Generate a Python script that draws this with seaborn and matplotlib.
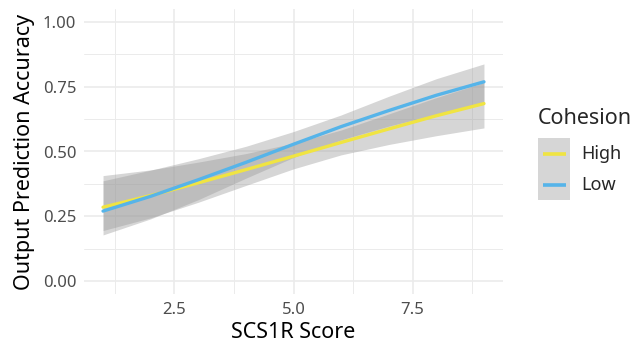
import seaborn as sns
import pandas as pd
import numpy as np
import matplotlib.pyplot as plt
from matplotlib.patches import Rectangle
from matplotlib.lines import Line2D
from matplotlib.legend_handler import HandlerBase
import matplotlib.ticker as ticker

# SCS1R score grid and fitted accuracy per cohesion group
scs1r = [1, 2, 3, 4, 5, 6, 7, 8, 9]

high_fit = [0.285, 0.330, 0.379, 0.430, 0.482, 0.535, 0.587, 0.638, 0.685]
high_lo = [0.195, 0.244, 0.304, 0.369, 0.433, 0.487, 0.527, 0.561, 0.591]
high_hi = [0.407, 0.429, 0.459, 0.492, 0.532, 0.583, 0.645, 0.708, 0.766]

low_fit = [0.270, 0.327, 0.391, 0.458, 0.528, 0.596, 0.658, 0.717, 0.769]
low_lo = [0.178, 0.240, 0.314, 0.397, 0.477, 0.545, 0.598, 0.643, 0.683]
low_hi = [0.387, 0.428, 0.472, 0.520, 0.577, 0.641, 0.713, 0.781, 0.838]

groups = ['High', 'Low']
colors = {'High': '#F0E442', 'Low': '#56B4E9'}

df = pd.DataFrame({
    'SCS1R Score': scs1r * 2,
    'Accuracy': high_fit + low_fit,
    'lo': high_lo + low_lo,
    'hi': high_hi + low_hi,
    'Cohesion': ['High'] * len(scs1r) + ['Low'] * len(scs1r),
})


class RibbonKey(HandlerBase):
    # ggplot-like key: grey ribbon square with a shorter coloured line on it
    def create_artists(self, legend, orig_handle, xdescent, ydescent,
                       width, height, fontsize, trans):
        rect = Rectangle((-xdescent, -ydescent), width, height,
                         facecolor='#D6D6D6', edgecolor='none', transform=trans)
        pad = width * 0.14
        y = -ydescent + height / 2
        line = Line2D([-xdescent + pad, -xdescent + width - pad], [y, y],
                      color=orig_handle.get_color(), linewidth=2.6,
                      solid_capstyle='butt', transform=trans)
        return [rect, line]


sns.set_theme(style="whitegrid")
plt.rcParams['font.family'] = ['Noto Sans', 'DejaVu Sans']

fig = plt.figure(figsize=(6.4, 3.45), dpi=100)
ax = fig.add_axes([84/640, 1 - 294/345, (503-84)/640, (294-9)/345])

# confidence ribbons first, then the lines on top
for g in groups:
    sub = df[df['Cohesion'] == g]
    ax.fill_between(sub['SCS1R Score'], sub['lo'], sub['hi'],
                    color='#999999', alpha=0.4, linewidth=0, zorder=2)

sns.lineplot(data=df, x='SCS1R Score', y='Accuracy', hue='Cohesion',
             palette=colors, linewidth=2.4, legend=False, ax=ax, zorder=3)

ax.set_xlim(0.6, 9.4)
ax.set_ylim(-0.05, 1.05)
ax.xaxis.set_major_locator(ticker.FixedLocator([2.5, 5.0, 7.5]))
ax.xaxis.set_minor_locator(ticker.FixedLocator([1.25, 3.75, 6.25, 8.75]))
ax.yaxis.set_major_locator(ticker.MultipleLocator(0.25))
ax.yaxis.set_minor_locator(ticker.FixedLocator([0.125, 0.375, 0.625, 0.875]))
ax.xaxis.set_major_formatter(ticker.FormatStrFormatter('%.1f'))
ax.yaxis.set_major_formatter(ticker.FormatStrFormatter('%.2f'))

ax.set_facecolor('white')
for s in ax.spines.values():
    s.set_visible(False)
ax.grid(which='major', color='#EBEBEB', linewidth=1.2)
ax.grid(which='minor', color='#EBEBEB', linewidth=0.7)
ax.set_axisbelow(True)
ax.tick_params(which='both', length=0, labelsize=12, labelcolor='#4D4D4D')
ax.tick_params(axis='y', pad=5.5)
ax.tick_params(axis='x', pad=6)

ax.set_xlabel('SCS1R Score', fontsize=15.5, color='black', labelpad=3)
ax.set_ylabel('Output Prediction Accuracy', fontsize=15.5, color='black', labelpad=6)

handles = [Line2D([], [], color=colors[g]) for g in groups]
leg = fig.legend(handles, groups, title='Cohesion', loc='upper left',
                 bbox_to_anchor=(531/640, 1 - 101/345), frameon=False,
                 fontsize=13, title_fontsize=15.5, alignment='left',
                 handlelength=1.78, handleheight=2.26, labelspacing=0,
                 handletextpad=0.6, borderaxespad=0,
                 handler_map={Line2D: RibbonKey()})
leg._legend_box.sep = 6.5  # gap between title and keys

fig.savefig('out.png', dpi=100)
